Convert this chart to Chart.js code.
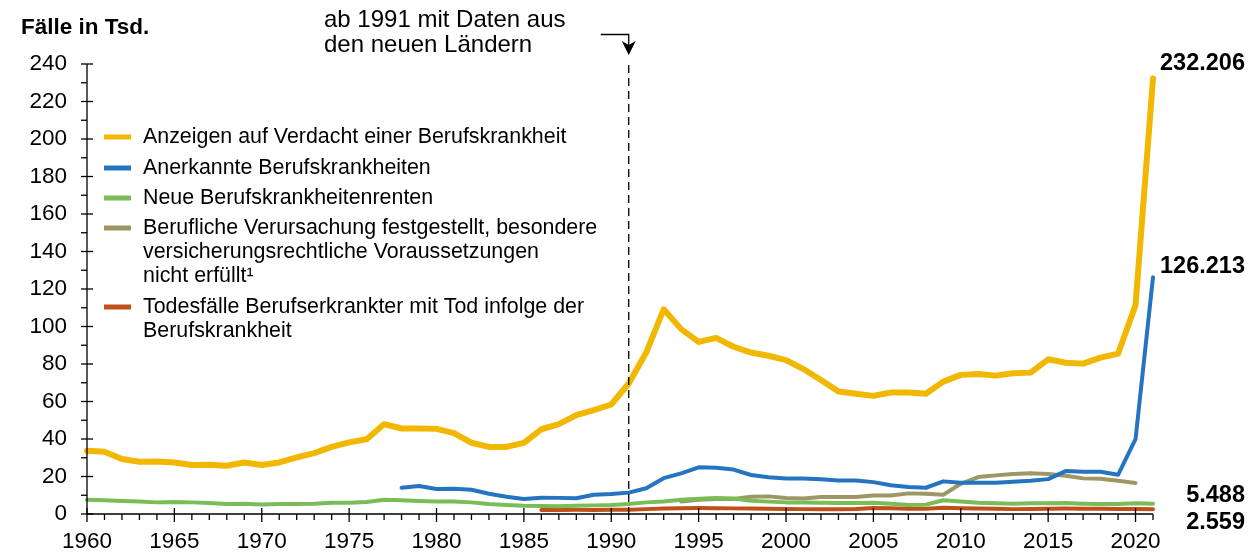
<!DOCTYPE html>
<html>
<head>
<meta charset="utf-8">
<script src="https://cdn.jsdelivr.net/npm/chart.js@4"></script>
<style>
  html, body { margin: 0; padding: 0; background: #fff; }
  #wrap { width: 1255px; height: 555px; position: relative; }
</style>
</head>
<body>
<div id="wrap"><canvas id="chart" width="1255" height="555"></canvas></div>
<script>
const FONT = 'Arial, "Liberation Sans", sans-serif';

const years = [];
for (let y = 1960; y <= 2021; y++) years.push(y);

// Werte in Tsd., 1960–2021
const anzeigen = [
  33.7, 33.2, 29.3, 27.9, 28.0, 27.5, 26.1, 26.3, 25.7, 27.5,
  26.1, 27.5, 30.2, 32.5, 35.8, 38.2, 39.9, 47.9, 45.6, 45.6,
  45.4, 43.1, 38.0, 35.8, 35.8, 37.9, 45.2, 47.9, 52.7, 55.4,
  58.4, 69.6, 86.1, 109.2, 98.6, 91.8, 93.9, 89.2, 86.1, 84.4,
  82.1, 77.3, 71.5, 65.3, 64.1, 63.0, 64.8, 64.8, 64.1, 70.6,
  74.2, 74.7, 73.8, 75.1, 75.4, 82.5, 80.7, 80.2, 83.4, 85.5,
  111.4, 232.206
];
const anerkannt = [
  null, null, null, null, null, null, null, null, null, null,
  null, null, null, null, null, null, null, null, 14.0, 14.9,
  13.3, 13.5, 12.9, 10.8, 9.2, 8.0, 8.7, 8.6, 8.4, 10.3,
  10.7, 11.4, 13.7, 19.1, 21.7, 24.9, 24.7, 23.7, 20.8, 19.6,
  18.9, 18.9, 18.5, 17.9, 17.9, 17.0, 15.3, 14.4, 14.0, 17.4,
  16.7, 16.7, 16.7, 17.2, 17.7, 18.6, 22.9, 22.5, 22.5, 20.9,
  39.9, 126.213
];
const renten = [
  7.6, 7.3, 6.9, 6.7, 6.2, 6.4, 6.2, 5.9, 5.3, 5.5,
  5.1, 5.3, 5.3, 5.5, 6.0, 6.0, 6.4, 7.6, 7.3, 6.9,
  6.7, 6.7, 6.2, 5.3, 4.8, 4.4, 4.3, 4.1, 4.4, 4.6,
  4.8, 5.3, 6.2, 6.7, 7.6, 8.1, 8.5, 8.3, 7.1, 6.6,
  6.2, 6.2, 6.0, 5.9, 5.9, 6.0, 5.5, 4.8, 5.0, 7.3,
  6.7, 6.0, 5.7, 5.5, 5.7, 5.7, 5.9, 5.5, 5.3, 5.3,
  5.7, 5.488
];
const verursachung = [
  null, null, null, null, null, null, null, null, null, null,
  null, null, null, null, null, null, null, null, null, null,
  null, null, null, null, null, null, null, null, null, null,
  null, null, null, null, 6.7, 7.6, 8.0, 8.0, 9.2, 9.4,
  8.5, 8.3, 9.1, 9.1, 9.1, 9.9, 9.9, 11.0, 10.8, 10.3,
  16.1, 19.7, 20.6, 21.3, 21.7, 21.3, 20.4, 19.0, 18.8, 17.7,
  16.5, null
];
const todesfaelle = [
  null, null, null, null, null, null, null, null, null, null,
  null, null, null, null, null, null, null, null, null, null,
  null, null, null, null, null, null, 2.1, 2.1, 2.2, 2.2,
  2.3, 2.3, 2.6, 2.9, 3.1, 3.2, 3.1, 3.0, 2.9, 2.8,
  2.7, 2.6, 2.6, 2.6, 2.7, 3.2, 3.1, 2.8, 2.8, 3.3,
  3.1, 2.9, 2.8, 2.6, 2.7, 2.8, 2.9, 2.8, 2.8, 2.7,
  2.7, 2.559
];

const legendLines = [
  ["Anzeigen auf Verdacht einer Berufskrankheit"],
  ["Anerkannte Berufskrankheiten"],
  ["Neue Berufskrankheitenrenten"],
  ["Berufliche Verursachung festgestellt, besondere",
   "versicherungsrechtliche Voraussetzungen",
   "nicht erfüllt\u00B9"],
  ["Todesfälle Berufserkrankter mit Tod infolge der",
   "Berufskrankheit"]
];
const endLabels = ["232.206", "126.213", "5.488", "2.559"];
const colors = ["#f2b700", "#2474c2", "#7abd58", "#9e9765", "#c0501a"];

function line(data, i, width) {
  return {
    data: data,
    borderColor: colors[i],
    backgroundColor: colors[i],
    borderWidth: width,
    pointRadius: 0,
    tension: 0,
    spanGaps: false,
    borderJoinStyle: "round",
    borderCapStyle: "round",
    clip: false
  };
}

const overlay = {
  id: "overlay",
  afterDraw(chart) {
    const { ctx, chartArea: a, scales: { x, y } } = chart;
    ctx.save();
    ctx.strokeStyle = "#000";
    ctx.fillStyle = "#000";
    ctx.lineWidth = 1.3;

    // axes
    ctx.beginPath();
    ctx.moveTo(a.left, a.top);
    ctx.lineTo(a.left, a.bottom);
    ctx.lineTo(a.right, a.bottom);
    ctx.stroke();

    // x ticks
    years.forEach((yr, i) => {
      const px = x.getPixelForValue(i);
      ctx.beginPath();
      if (yr % 5 === 0) { ctx.moveTo(px, a.bottom - 6); ctx.lineTo(px, a.bottom + 8); }
      else { ctx.moveTo(px, a.bottom); ctx.lineTo(px, a.bottom + 6); }
      ctx.stroke();
    });
    // y ticks
    for (let v = 0; v <= 240; v += 10) {
      const py = y.getPixelForValue(v);
      ctx.beginPath();
      if (v % 20 === 0) { ctx.moveTo(a.left - 6, py); ctx.lineTo(a.left + 6, py); }
      else { ctx.moveTo(a.left - 6, py); ctx.lineTo(a.left, py); }
      ctx.stroke();
    }

    // 1991 marker
    const x91 = x.getPixelForValue(years.indexOf(1991));
    ctx.save();
    ctx.setLineDash([8, 5]);
    ctx.lineWidth = 1.3;
    ctx.beginPath();
    ctx.moveTo(x91, a.top + 1);
    ctx.lineTo(x91, a.bottom);
    ctx.stroke();
    ctx.restore();
    ctx.beginPath();
    ctx.moveTo(x91 - 28, 34.5);
    ctx.lineTo(x91, 34.5);
    ctx.lineTo(x91, 46);
    ctx.stroke();
    ctx.beginPath();
    ctx.moveTo(x91 - 7, 41);
    ctx.lineTo(x91, 45);
    ctx.lineTo(x91 + 7, 41);
    ctx.lineTo(x91, 55);
    ctx.closePath();
    ctx.fill();

    ctx.font = "24px " + FONT;
    ctx.textAlign = "left";
    ctx.textBaseline = "alphabetic";
    ctx.fillText("ab 1991 mit Daten aus", 324, 27);
    ctx.fillText("den neuen Ländern", 324, 52);

    // axis title
    ctx.font = "bold 22.5px " + FONT;
    ctx.fillText("Fälle in Tsd.", 21, 34);

    // legend
    ctx.font = "21.4px " + FONT;
    ctx.textBaseline = "middle";
    const rows = [137, 168, 198, 228, 307];
    legendLines.forEach((lines, i) => {
      const ry = rows[i];
      ctx.fillStyle = colors[i];
      ctx.fillRect(104, ry - 2.5, 27, 5);
      ctx.fillStyle = "#000";
      lines.forEach((t, k) => ctx.fillText(t, 143, ry + k * 24));
    });

    // end labels
    ctx.font = "bold 23.5px " + FONT;
    ctx.textAlign = "right";
    const last = years.length - 1;
    const vals = [anzeigen[last], anerkannt[last], renten[last], todesfaelle[last]];
    const offs = [-15, -11, -8, 13];
    vals.forEach((v, i) => {
      ctx.fillText(endLabels[i], 1245, y.getPixelForValue(v) + offs[i]);
    });
    ctx.restore();
  }
};

new Chart(document.getElementById("chart"), {
  type: "line",
  data: {
    labels: years,
    datasets: [
      line(anzeigen, 0, 6),
      line(anerkannt, 1, 4),
      line(renten, 2, 4),
      line(verursachung, 3, 4),
      line(todesfaelle, 4, 4)
    ]
  },
  options: {
    responsive: false,
    animation: false,
    layout: { padding: { top: 64, right: 102, bottom: 0, left: 0 } },
    plugins: { legend: { display: false }, tooltip: { enabled: false } },
    scales: {
      x: {
        type: "category",
        offset: false,
        grid: { display: false, drawTicks: false },
        border: { display: false },
        afterFit: (s) => { s.height = 41; },
        ticks: {
          autoSkip: false,
          maxRotation: 0,
          padding: 14,
          color: "#000",
          font: { family: FONT, size: 22.5 },
          callback: function (v, i) { return years[i] % 5 === 0 ? String(years[i]) : ""; }
        }
      },
      y: {
        min: 0,
        max: 240,
        grid: { display: false, drawTicks: false },
        border: { display: false },
        afterFit: (s) => { s.width = 87; },
        ticks: {
          stepSize: 20,
          padding: 20,
          color: "#000",
          font: { family: FONT, size: 22.5 }
        }
      }
    }
  },
  plugins: [overlay]
});
</script>
</body>
</html>
